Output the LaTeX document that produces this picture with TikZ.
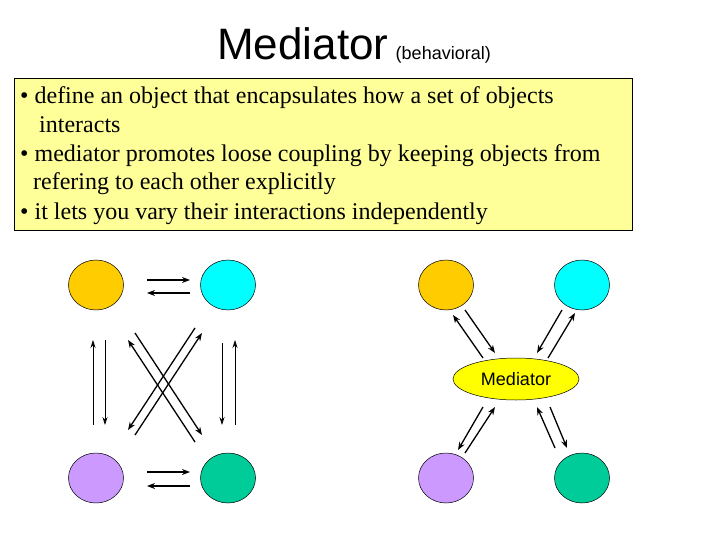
\documentclass[tikz,border=0pt]{standalone}
\usepackage{fontspec}
\setmainfont{Liberation Serif}
\newfontfamily\arial{Liberation Sans}
\usetikzlibrary{arrows.meta,shapes.geometric}
\begin{document}
\begin{tikzpicture}[x=1pt,y=-1pt,
  obj/.style={ellipse,draw=black,line width=0.5pt,minimum width=55pt,minimum height=50pt,inner sep=0pt},
  arr/.style={-{Stealth[length=8pt,width=6pt]},line width=1.3pt},
  arrt/.style={-{Stealth[length=8pt,width=5pt]},line width=0.7pt},
  txt/.style={anchor=base west,font=\fontsize{24}{28}\selectfont,inner sep=0pt}]
\useasboundingbox (0,0) rectangle (720,540);
\node[anchor=base,inner sep=0pt,font=\arial\fontsize{44}{50}\selectfont] (title) at (354,60) {Mediator\,{\fontsize{18}{20}\selectfont(behavioral)}};
\draw[fill={rgb,255:red,255;green,255;blue,153},line width=0.5pt] (14,78) rectangle (632,230);
\node[txt] (l1) at (20,104) {• define an object that encapsulates how a set of objects};
\node[txt] (l2) at (39,133) {interacts};
\node[txt] (l3) at (20,162) {• mediator promotes loose coupling by keeping objects from};
\node[txt] (l4) at (33,190) {refering to each other explicitly};
\node[txt] (l5) at (20,219) {• it lets you vary their interactions independently};
% left group
\node[obj,fill={rgb,255:red,255;green,204;blue,0}] (a1) at (96,285) {};
\node[obj,fill={rgb,255:red,0;green,255;blue,255}] (b1) at (228,285) {};
\node[obj,fill={rgb,255:red,204;green,153;blue,255}] (c1) at (96,478) {};
\node[obj,fill={rgb,255:red,0;green,204;blue,153}] (d1) at (228,478) {};
\coordinate (h1) at (147,280); \coordinate (h2) at (190,280);
\draw[arr] (h1) -- (h2);
\coordinate (h3) at (190,293); \coordinate (h4) at (147,293);
\draw[arr] (h3) -- (h4);
\coordinate (h5) at (147,472); \coordinate (h6) at (190,472);
\draw[arr] (h5) -- (h6);
\coordinate (h7) at (190,486); \coordinate (h8) at (147,486);
\draw[arr] (h7) -- (h8);
\coordinate (v1) at (93,425); \coordinate (v2) at (93,340);
\draw[arrt] (v1) -- (v2);
\coordinate (v3) at (105,340); \coordinate (v4) at (105,425);
\draw[arrt] (v3) -- (v4);
\coordinate (v5) at (222,343); \coordinate (v6) at (222,425);
\draw[arrt] (v5) -- (v6);
\coordinate (v7) at (235,425); \coordinate (v8) at (235,340);
\draw[arrt] (v7) -- (v8);
\coordinate (x1) at (135,333); \coordinate (x2) at (202,435);
\draw[arr] (x1) -- (x2);
\coordinate (x3) at (195,442); \coordinate (x4) at (128,340);
\draw[arr] (x3) -- (x4);
\coordinate (x5) at (195,328); \coordinate (x6) at (128,430);
\draw[arr] (x5) -- (x6);
\coordinate (x7) at (135,435); \coordinate (x8) at (202,333);
\draw[arr] (x7) -- (x8);
% right group
\node[obj,fill={rgb,255:red,255;green,204;blue,0}] (a2) at (446,285) {};
\node[obj,fill={rgb,255:red,0;green,255;blue,255}] (b2) at (582,285) {};
\node[obj,fill={rgb,255:red,204;green,153;blue,255}] (c2) at (446,478) {};
\node[obj,fill={rgb,255:red,0;green,204;blue,153}] (d2) at (582,478) {};
\node[ellipse,draw=black,line width=0.5pt,fill={rgb,255:red,255;green,255;blue,0},minimum width=126pt,minimum height=42pt,inner sep=0pt,font=\arial\fontsize{18}{20}\selectfont] (m) at (516,379) {Mediator};
\coordinate (r1) at (483,358); \coordinate (r2) at (453,315);
\draw[arr] (r1) -- (r2);
\coordinate (r3) at (465,310); \coordinate (r4) at (495,353);
\draw[arr] (r3) -- (r4);
\coordinate (r5) at (562,310); \coordinate (r6) at (537,353);
\draw[arr] (r5) -- (r6);
\coordinate (r7) at (548,358); \coordinate (r8) at (575,313);
\draw[arr] (r7) -- (r8);
\coordinate (s1) at (483,407); \coordinate (s2) at (458,450);
\draw[arr] (s1) -- (s2);
\coordinate (s3) at (465,453); \coordinate (s4) at (495,407);
\draw[arr] (s3) -- (s4);
\coordinate (s5) at (555,448); \coordinate (s6) at (537,407);
\draw[arr] (s5) -- (s6);
\coordinate (s7) at (550,407); \coordinate (s8) at (567,448);
\draw[arr] (s7) -- (s8);
\end{tikzpicture}
\end{document}
